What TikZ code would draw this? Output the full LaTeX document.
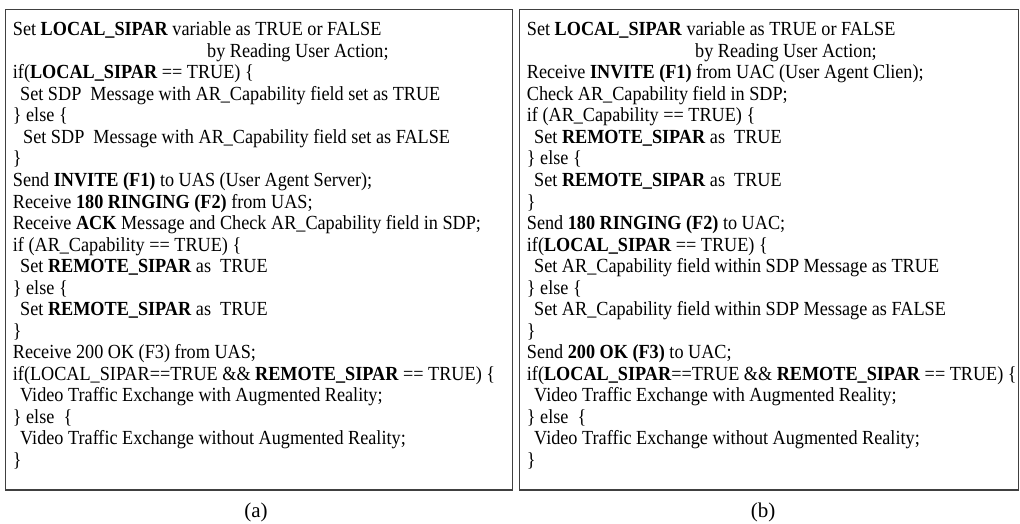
\documentclass[tikz,border=0pt]{standalone}
\usepackage{fontspec}
\setmainfont{Liberation Serif}[FakeStretch=0.91]
\newfontfamily\labfont{Liberation Serif}
\newcommand\codeline[4]{\node[codeln] (#1) at (#2pt,{-(35.7+(#3-1)*21.54)*1pt}) {#4};}
\begin{document}
\begin{tikzpicture}[
  codeln/.style={anchor=base west, inner sep=0pt, font=\fontsize{20}{24}\selectfont},
  framebox/.style={draw=black!75, line width=1.3pt},
  sublabel/.style={inner sep=0pt, font=\labfont\fontsize{21}{25}\selectfont}
]
\useasboundingbox (0,0) rectangle (1020pt,-524pt);
% frames
\draw[framebox] (5.7pt,-9.3pt) rectangle (512.7pt,-490pt);
\draw[framebox] (519.3pt,-9.3pt) rectangle (1018.5pt,-490pt);
% left panel
\codeline{a1}{12.7}{1}{Set \textbf{LOCAL\_SIPAR} variable as TRUE or FALSE}
\codeline{a2}{207}{2}{by Reading User Action;}
\codeline{a3}{12.7}{3}{if(\textbf{LOCAL\_SIPAR} == TRUE) \{}
\codeline{a4}{20}{4}{Set SDP\ \ Message with AR\_Capability field set as TRUE}
\codeline{a5}{12.7}{5}{\} else \{}
\codeline{a6}{23}{6}{Set SDP\ \ Message with AR\_Capability field set as FALSE}
\codeline{a7}{12.7}{7}{\}}
\codeline{a8}{12.7}{8}{Send \textbf{INVITE (F1)} to UAS (User Agent Server);}
\codeline{a9}{12.7}{9}{Receive \textbf{180 RINGING (F2)} from UAS;}
\codeline{a10}{12.7}{10}{Receive \textbf{ACK} Message and Check AR\_Capability field in SDP;}
\codeline{a11}{12.7}{11}{if (AR\_Capability == TRUE) \{}
\codeline{a12}{20}{12}{Set \textbf{REMOTE\_SIPAR} as\ \ TRUE}
\codeline{a13}{12.7}{13}{\} else \{}
\codeline{a14}{20}{14}{Set \textbf{REMOTE\_SIPAR} as\ \ TRUE}
\codeline{a15}{12.7}{15}{\}}
\codeline{a16}{12.7}{16}{Receive 200 OK (F3) from UAS;}
\codeline{a17}{12.7}{17}{if(LOCAL\_SIPAR==TRUE \&\& \textbf{REMOTE\_SIPAR} == TRUE) \{}
\codeline{a18}{20}{18}{Video Traffic Exchange with Augmented Reality;}
\codeline{a19}{12.7}{19}{\} else\ \ \{}
\codeline{a20}{20}{20}{Video Traffic Exchange without Augmented Reality;}
\codeline{a21}{12.7}{21}{\}}
% right panel
\codeline{b1}{526.7}{1}{Set \textbf{LOCAL\_SIPAR} variable as TRUE or FALSE}
\codeline{b2}{695}{2}{by Reading User Action;}
\codeline{b3}{526.7}{3}{Receive \textbf{INVITE (F1)} from UAC (User Agent Clien);}
\codeline{b4}{526.7}{4}{Check AR\_Capability field in SDP;}
\codeline{b5}{526.7}{5}{if (AR\_Capability == TRUE) \{}
\codeline{b6}{534}{6}{Set \textbf{REMOTE\_SIPAR} as\ \ TRUE}
\codeline{b7}{526.7}{7}{\} else \{}
\codeline{b8}{534}{8}{Set \textbf{REMOTE\_SIPAR} as\ \ TRUE}
\codeline{b9}{526.7}{9}{\}}
\codeline{b10}{526.7}{10}{Send \textbf{180 RINGING (F2)} to UAC;}
\codeline{b11}{526.7}{11}{if(\textbf{LOCAL\_SIPAR} == TRUE) \{}
\codeline{b12}{534}{12}{Set AR\_Capability field within SDP Message as TRUE}
\codeline{b13}{526.7}{13}{\} else \{}
\codeline{b14}{534}{14}{Set AR\_Capability field within SDP Message as FALSE}
\codeline{b15}{526.7}{15}{\}}
\codeline{b16}{526.7}{16}{Send \textbf{200 OK (F3)} to UAC;}
\codeline{b17}{526.7}{17}{if(\textbf{LOCAL\_SIPAR}==TRUE \&\& \textbf{REMOTE\_SIPAR} == TRUE) \{}
\codeline{b18}{534}{18}{Video Traffic Exchange with Augmented Reality;}
\codeline{b19}{526.7}{19}{\} else\ \ \{}
\codeline{b20}{534}{20}{Video Traffic Exchange without Augmented Reality;}
\codeline{b21}{526.7}{21}{\}}
% captions
\node[sublabel] (capa) at (256pt,-512pt) {(a)};
\node[sublabel] (capb) at (763pt,-512pt) {(b)};
\end{tikzpicture}
\end{document}
